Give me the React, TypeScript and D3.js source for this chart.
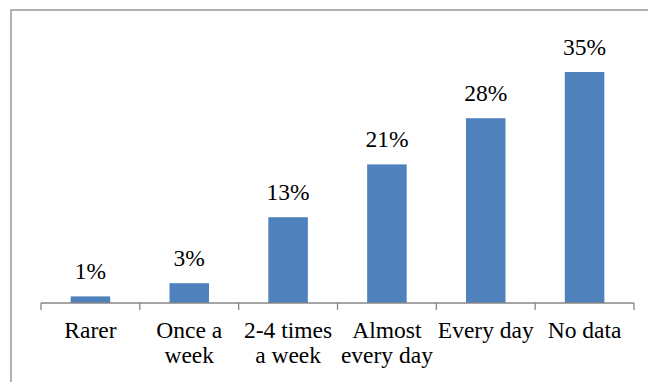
import React from "react";
import * as d3 from "d3";

const categories: string[][] = [
  ["Rarer"],
  ["Once a", "week"],
  ["2-4 times", "a week"],
  ["Almost", "every day"],
  ["Every day"],
  ["No data"],
];
const values: number[] = [1, 3, 13, 21, 28, 35];
const valueLabels: string[] = ["1%", "3%", "13%", "21%", "28%", "35%"];

const W = 648;
const H = 382;
const axisLeft = 41;
const axisRight = 634;
const baseY = 303;
const FONT = "'Liberation Serif'";

export default function App() {
  const keys = categories.map((_, i) => String(i));
  const x = d3
    .scaleBand<string>()
    .domain(keys)
    .range([axisLeft, axisRight])
    .paddingInner(0.6)
    .paddingOuter(0.3);
  const y = d3.scaleLinear().domain([0, 40]).range([baseY, 39]);
  const step = (axisRight - axisLeft) / categories.length;
  const ticks = d3.range(categories.length + 1).map((i) => axisLeft + i * step);
  const textStyle = { fontFamily: FONT, fontSize: "23.5px" };
  const cx = (i: number) => (x(String(i)) as number) + x.bandwidth() / 2;

  return (
    <svg
      width={W}
      height={H}
      style={{ position: "absolute", left: 0, top: 0 }}
    >
      <rect x={0} y={0} width={W} height={H} fill="#fff" />
      <rect
        x={11}
        y={10}
        width={W}
        height={H}
        fill="none"
        stroke="#898989"
        strokeWidth={1.3}
      />
      {values.map((v, i) => (
        <rect
          key={i}
          x={x(String(i))}
          y={y(v)}
          width={x.bandwidth()}
          height={baseY - y(v)}
          fill="#4F81BD"
        />
      ))}
      <line
        x1={axisLeft}
        x2={axisRight}
        y1={baseY}
        y2={baseY}
        stroke="#868686"
        strokeWidth={1.3}
      />
      {ticks.map((t, i) => (
        <line
          key={i}
          x1={t}
          x2={t}
          y1={baseY}
          y2={baseY + 7}
          stroke="#868686"
          strokeWidth={1.3}
        />
      ))}
      {values.map((v, i) => (
        <text
          key={i}
          x={cx(i)}
          y={y(v) - 17}
          textAnchor="middle"
          style={textStyle}
          fill="#000"
        >
          {valueLabels[i]}
        </text>
      ))}
      {categories.map((lines, i) => (
        <text
          key={i}
          x={cx(i)}
          y={338}
          textAnchor="middle"
          style={textStyle}
          fill="#000"
        >
          {lines.map((l, j) => (
            <tspan key={j} x={cx(i)} dy={j === 0 ? 0 : 25}>
              {l}
            </tspan>
          ))}
        </text>
      ))}
    </svg>
  );
}
